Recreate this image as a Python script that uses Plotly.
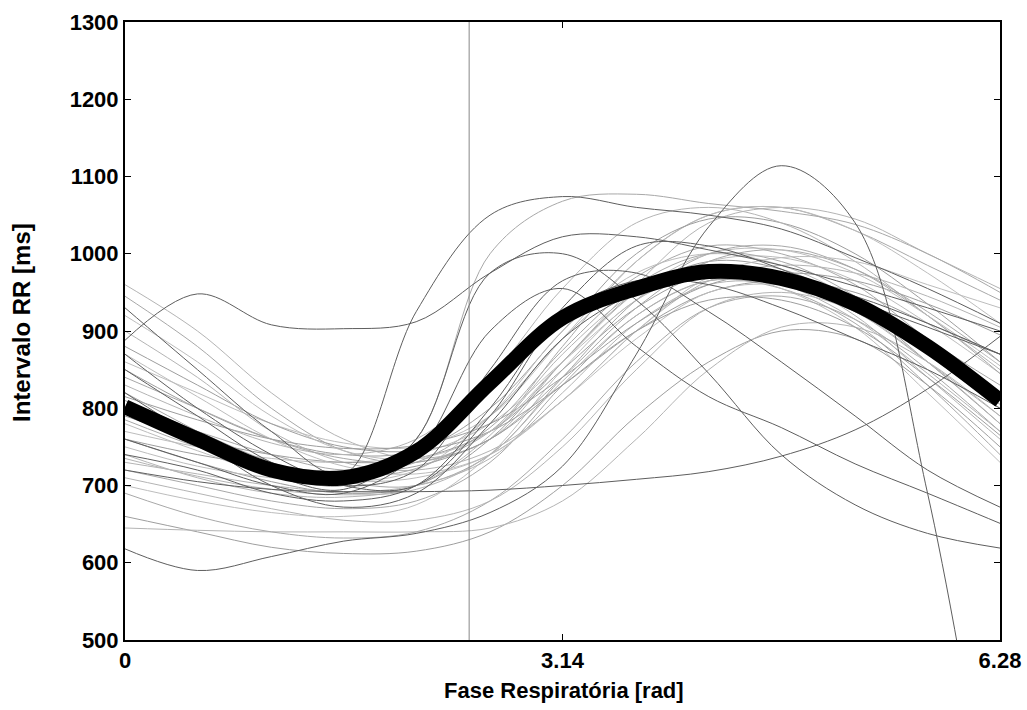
import plotly.graph_objects as go

# Respiratory phase grid (rad)
phase = [0, 0.52, 1.05, 1.57, 2.09, 2.62, 3.14, 3.67, 4.19, 4.71, 5.24, 5.76, 6.28]

# Individual subject curves (RR interval, ms) - darker traces
dark_curves = [
    [618, 590, 608, 628, 638, 665, 725, 870, 1035, 1114, 1040, 690, 170],
    [720, 705, 695, 692, 692, 694, 700, 708, 718, 738, 772, 825, 893],
    [888, 948, 908, 903, 912, 975, 1022, 1022, 1005, 985, 958, 930, 900],
    [930, 850, 770, 715, 925, 1050, 1074, 1060, 1050, 1032, 995, 955, 910],
    [800, 760, 715, 695, 760, 975, 1000, 940, 845, 740, 675, 638, 619],
    [760, 730, 700, 690, 740, 900, 955, 880, 815, 775, 728, 690, 651],
    [850, 790, 730, 700, 720, 850, 965, 975, 925, 860, 790, 720, 672],
    [870, 800, 740, 700, 700, 790, 920, 965, 960, 930, 890, 850, 800],
    [740, 720, 690, 680, 700, 800, 930, 1010, 1010, 980, 940, 905, 870],
    [820, 760, 700, 672, 690, 780, 890, 950, 975, 970, 945, 910, 870],
]

# Lighter traces
light_curves = [
    [960, 900, 820, 760, 735, 760, 860, 960, 1040, 1060, 1045, 1000, 955],
    [945, 880, 800, 745, 730, 770, 880, 990, 1050, 1060, 1030, 985, 940],
    [860, 820, 780, 755, 750, 790, 890, 990, 1050, 1060, 1030, 975, 910],
    [850, 800, 760, 740, 745, 800, 900, 1000, 1045, 1040, 1000, 935, 860],
    [830, 790, 755, 740, 760, 840, 955, 1040, 1060, 1040, 990, 920, 850],
    [800, 770, 740, 720, 730, 790, 890, 970, 1010, 1000, 960, 890, 830],
    [780, 745, 715, 705, 720, 790, 900, 975, 1000, 985, 940, 870, 800],
    [760, 730, 705, 690, 700, 760, 860, 950, 990, 980, 935, 860, 780],
    [740, 710, 690, 685, 700, 765, 870, 950, 985, 970, 920, 840, 760],
    [720, 700, 680, 670, 680, 730, 830, 920, 965, 955, 910, 830, 740],
    [700, 680, 665, 660, 675, 740, 850, 940, 975, 955, 905, 820, 730],
    [660, 640, 620, 612, 615, 640, 700, 790, 860, 900, 890, 830, 750],
    [645, 642, 640, 640, 640, 645, 680, 760, 850, 905, 905, 860, 790],
    [690, 660, 640, 632, 640, 680, 760, 860, 930, 945, 915, 850, 770],
    [770, 750, 735, 730, 740, 780, 860, 940, 990, 995, 965, 910, 845],
    [880, 830, 780, 750, 745, 770, 830, 900, 950, 965, 950, 910, 870],
    [900, 840, 770, 730, 720, 745, 810, 900, 965, 985, 975, 945, 905],
    [810, 770, 730, 705, 700, 740, 840, 940, 1000, 1010, 980, 920, 845],
    [750, 725, 710, 705, 710, 740, 810, 890, 950, 960, 935, 880, 815],
    [790, 760, 740, 730, 735, 770, 850, 930, 975, 975, 940, 880, 820],
    [730, 715, 700, 692, 700, 735, 820, 910, 960, 960, 925, 860, 790],
    [840, 800, 760, 735, 730, 760, 840, 930, 990, 1005, 980, 925, 860],
    [870, 815, 760, 725, 715, 740, 810, 900, 970, 995, 990, 960, 930],
    [815, 785, 760, 748, 752, 780, 840, 910, 960, 975, 965, 935, 895],
    [710, 690, 670, 655, 655, 680, 750, 850, 930, 950, 925, 860, 780],
    [820, 770, 720, 700, 760, 1000, 1068, 1077, 1065, 1055, 1038, 1000, 950],
    [920, 860, 790, 745, 735, 770, 860, 950, 1000, 1005, 975, 920, 855],
    [760, 740, 725, 718, 725, 760, 830, 900, 940, 940, 905, 840, 765],
    [735, 712, 695, 688, 695, 740, 835, 920, 965, 960, 915, 845, 770],
    [785, 750, 722, 712, 722, 775, 875, 960, 1000, 990, 945, 875, 805],
]

# Mean curve
mean_curve = [802, 760, 720, 710, 744, 833, 917, 955, 977, 968, 935, 880, 810]

# Vertical marker
marker_phase = 2.47

x_ticks = [0, 3.14, 6.28]
x_ticklabels = ["0", "3.14", "6.28"]
y_ticks = [500, 600, 700, 800, 900, 1000, 1100, 1200, 1300]

x_title = "Fase Respiratória [rad]"
y_title = "Intervalo RR [ms]"

light_colors = ["#b4b4b4", "#a8a8a8", "#bdbdbd", "#9e9e9e"]

fig = go.Figure()

for i, c in enumerate(light_curves):
    fig.add_trace(go.Scatter(x=phase, y=c, mode="lines",
                             line=dict(color=light_colors[i % 4], width=1, shape="spline", smoothing=1.0),
                             showlegend=False, hoverinfo="skip"))
for c in dark_curves:
    fig.add_trace(go.Scatter(x=phase, y=c, mode="lines",
                             line=dict(color="#5e5e5e", width=1, shape="spline", smoothing=1.0),
                             showlegend=False, hoverinfo="skip"))

fig.add_trace(go.Scatter(x=[marker_phase, marker_phase], y=[500, 1300], mode="lines",
                         line=dict(color="#888888", width=1), showlegend=False, hoverinfo="skip"))

fig.add_trace(go.Scatter(x=phase, y=mean_curve, mode="lines",
                         line=dict(color="#000000", width=15, shape="spline", smoothing=1.0),
                         showlegend=False, hoverinfo="skip"))

font_fam = "Liberation Sans, Arial"

axis_common = dict(
    showline=True, linecolor="black", linewidth=2, mirror="ticks",
    ticks="inside", ticklen=6, tickcolor="black", tickwidth=1,
    showgrid=False, zeroline=False, automargin=False,
    tickfont=dict(size=22, family=font_fam, color="black", weight="bold"),
)

fig.update_layout(
    width=1027, height=710,
    margin=dict(l=125, r=27, t=22, b=70),
    plot_bgcolor="white", paper_bgcolor="white",
    font=dict(family=font_fam, color="black"),
    xaxis=dict(range=[0, 6.28], tickvals=x_ticks, ticktext=x_ticklabels, **axis_common),
    yaxis=dict(range=[500, 1300], tickvals=y_ticks, **axis_common),
    annotations=[
        dict(text=x_title, xref="paper", yref="paper", x=0.5017, y=-0.0825,
             xanchor="center", yanchor="middle", showarrow=False,
             font=dict(size=22, family=font_fam, color="black", weight="bold")),
        dict(text=y_title, xref="paper", yref="paper", x=-0.1177, y=0.513,
             xanchor="center", yanchor="middle", showarrow=False, textangle=-90,
             font=dict(size=24, family=font_fam, color="black", weight="bold")),
    ],
)

fig.write_html("out.html")
